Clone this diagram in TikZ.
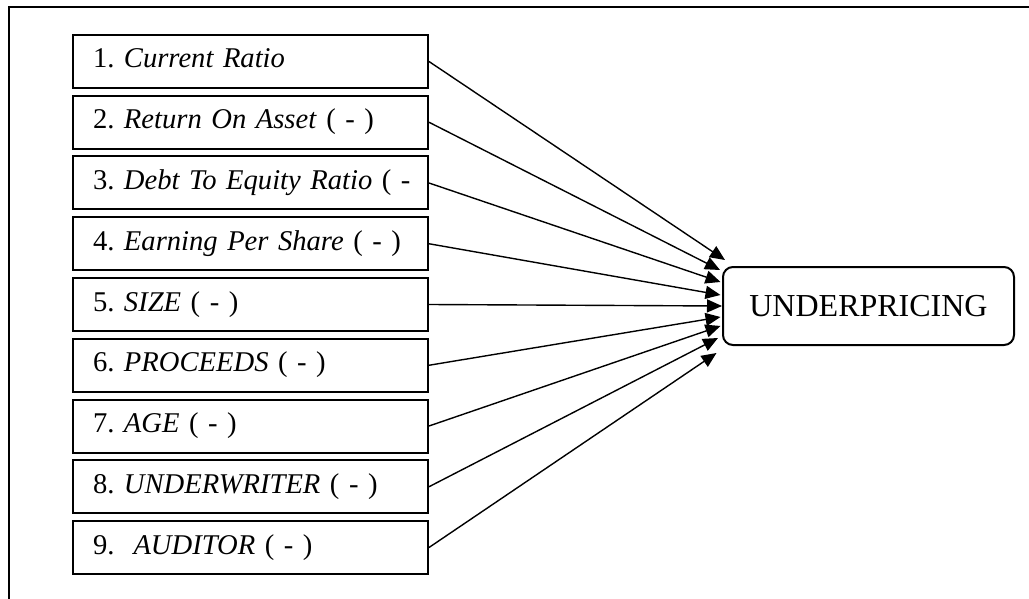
\documentclass[tikz,border=0pt]{standalone}
\usepackage{fontspec}
\setmainfont{Liberation Serif}
\usetikzlibrary{arrows.meta}

\begin{document}
\begin{tikzpicture}[x=0.5pt, y=-0.5pt, >={Triangle[length=7.5pt,width=6.5pt]},
	varbox/.style={draw, line width=1pt, minimum width=177.5pt, minimum height=26.5pt,
		inner xsep=10pt, inner ysep=0pt, text width=157.5pt, align=left,
		text height=16.5pt, text depth=10pt, font=\fontsize{14.3}{17}\selectfont},
	targetbox/.style={draw, line width=1pt, rounded corners=5pt, minimum width=145.5pt,
		minimum height=39pt, font=\fontsize{16}{19}\selectfont}]
	\useasboundingbox (0,0) rectangle (1029,599);
	% frame
	\draw[line width=1pt] (9,599) -- (9,7) -- (1029,7);
	% variables
	\foreach \i/\num/\name/\tail in {1/1./Current Ratio/,2/2./Return On Asset/ ( - ),
		3/3./Debt To Equity Ratio/ ( -,4/4./Earning Per Share/ ( - ),5/5./SIZE/ ( - ),
		6/6./PROCEEDS/ ( - ),7/7./AGE/ ( - ),8/8./UNDERWRITER/ ( - ),9/9.~/AUDITOR/ ( - )} {
		\node[varbox] (v\i) at (250.5,{61.5+60.75*(\i-1)}) {\mbox{\num\ \textit{\name}\tail}};
	}
	\node[targetbox] (under) at (868.5,306) {UNDERPRICING};
	% arrow ends
	\foreach \i/\x/\y in {1/725/260,2/720/270,3/720.5/282,4/720.5/295,5/722/306,
		6/720.5/317,7/720.5/326,8/718/338,9/716.5/353} {
		\coordinate (t\i) at (\x,\y);
	}
	\foreach \i in {1,...,9} {\draw[->, line width=0.7pt] (v\i.east) -- (t\i);}
\end{tikzpicture}
\end{document}
